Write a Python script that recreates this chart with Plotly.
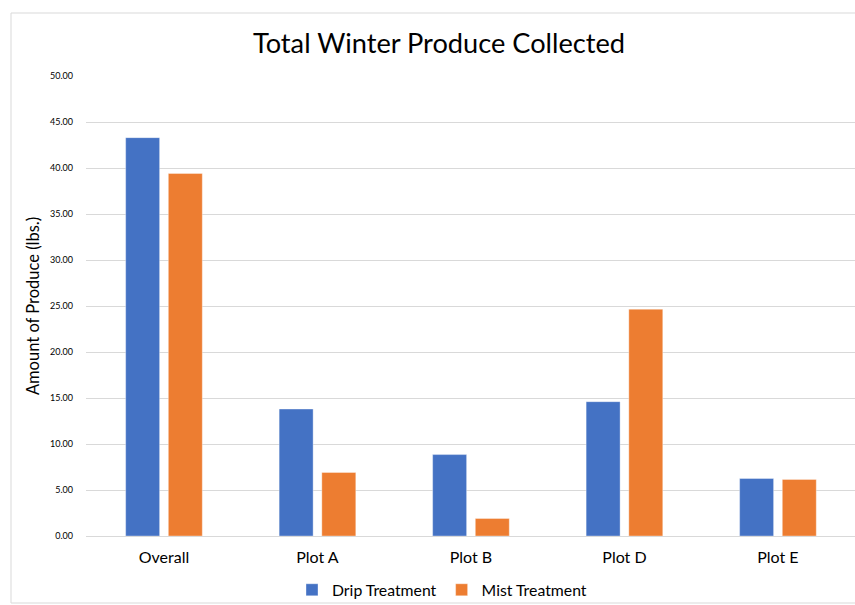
import plotly.graph_objects as go

categories = ["Overall", "Plot A", "Plot B", "Plot D", "Plot E"]
drip = [43.3, 13.8, 8.85, 14.6, 6.25]
mist = [39.4, 6.9, 1.9, 24.65, 6.15]
series_names = ["Drip Treatment", "Mist Treatment"]
y_ticks = [0, 5, 10, 15, 20, 25, 30, 35, 40, 45, 50]

W, H = 855, 605
ML, MR, MT, MB = 86, 0, 76, 69
pw = W - ML - MR
ph = H - MT - MB

font = "Lato, 'Open Sans', sans-serif"

fig = go.Figure()
fig.add_trace(go.Bar(x=categories, y=drip, name=series_names[0],
                     marker=dict(color="#4472C4", line=dict(color="rgba(255,255,255,0.6)", width=0.6))))
fig.add_trace(go.Bar(x=categories, y=mist, name=series_names[1],
                     marker=dict(color="#ED7D31", line=dict(color="rgba(255,255,255,0.6)", width=0.6))))

fig.update_layout(
    width=W, height=H,
    margin=dict(l=ML, r=MR, t=MT, b=MB),
    paper_bgcolor="white", plot_bgcolor="white",
    barmode="group", bargap=0.444, bargroupgap=0.204,
    title=dict(text="Total Winter Produce Collected", x=(439) / W, xanchor="center",
               y=1 - 43 / H, yanchor="middle",
               font=dict(family=font, size=27.2, color="#000000")),
    xaxis=dict(showgrid=False, showline=False, ticks="", ticklabelstandoff=10,
               range=[-0.508, 4.502],
               tickfont=dict(family=font, size=16, color="#000000")),
    yaxis=dict(range=[0, 50], tickvals=y_ticks,
               ticktext=[f"{v:.2f}" for v in y_ticks],
               showgrid=True, gridcolor="#d9d9d9", gridwidth=1,
               zeroline=True, zerolinecolor="#d9d9d9", zerolinewidth=1,
               showline=False, ticks="", ticklabelstandoff=12,
               tickfont=dict(family=font, size=9, color="#000000"),
               title=dict(text="Amount of Produce (lbs.)", standoff=6,
                          font=dict(family=font, size=16.5, color="#000000"))),
    legend=dict(orientation="h", x=442 / W, xref="container", xanchor="center",
                y=1 - 590 / H, yref="container", yanchor="middle",
                bgcolor="rgba(0,0,0,0)",
                font=dict(family=font, size=15.8, color="#000000"),
                itemwidth=30, traceorder="normal"),
    shapes=[dict(type="rect", xref="paper", yref="paper",
                 x0=(11 - ML) / pw, x1=(W + 5 - ML) / pw,
                 y0=-(603 - (MT + ph)) / ph, y1=1 + (MT - 13) / ph,
                 line=dict(color="#d9d9d9", width=1), layer="below")],
)

fig.write_html("out.html")
